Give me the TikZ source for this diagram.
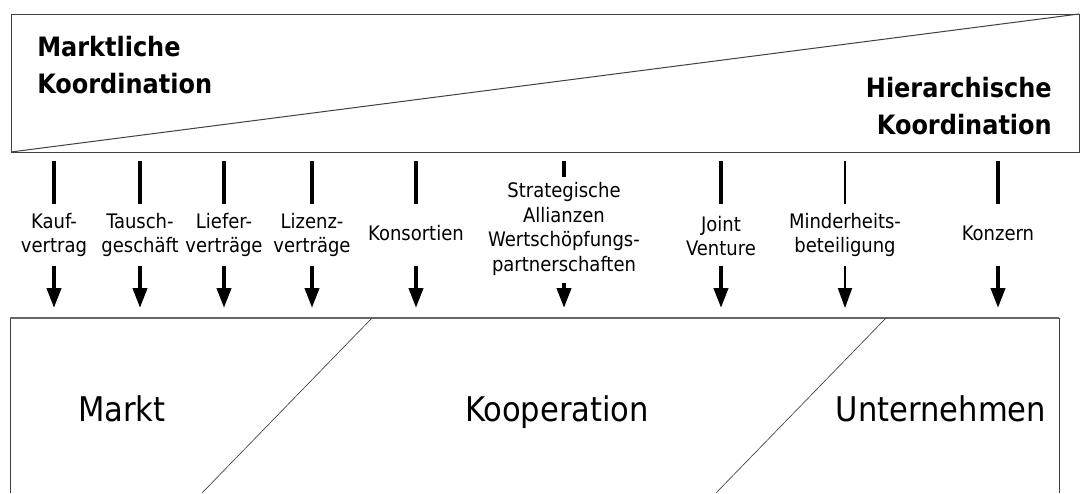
\documentclass[tikz,border=0pt]{standalone}
\usepackage{fontspec}
\setmainfont{DejaVu Sans Condensed}
\usetikzlibrary{arrows.meta}
\tikzset{
  bar/.style={line width=3pt},
  pfeil/.style={line width=3pt,-{Triangle[width=10.5pt,length=15pt]}},
  form/.style={align=center,font=\fontsize{15}{18.4}\selectfont,inner sep=0pt},
  feld/.style={font=\fontsize{25.5}{30}\selectfont,inner sep=0pt,anchor=base},
  titel/.style={font=\fontsize{20}{28}\selectfont\bfseries,inner sep=0pt},
  rand/.style={draw=black!75,line width=0.75pt}
}
\begin{document}
\begin{tikzpicture}[x=0.75pt,y=-0.75pt]
\useasboundingbox (0,0) rectangle (1081,493);
\draw[rand] (11,14) rectangle (1079,152);
\draw[rand] (11,152) -- (1079,14);
\node[titel,anchor=north west,align=left] (mk) at (37,36) {Marktliche\\Koordination};
\node[titel,anchor=north east,align=right] (hk) at (1052,77) {Hierarchische\\Koordination};
\foreach \x/\n/\t/\ly/\yb/\ya/\w in {
  54/kauf/{Kauf-\\vertrag}/235/204/266/3,
  140/tausch/{Tausch-\\geschäft}/235/204/266/3,
  224/liefer/{Liefer-\\verträge}/235/204/266/3,
  312/lizenz/{Lizenz-\\verträge}/235/204/266/3,
  416/kons/{Konsortien}/233/204/266/3,
  564/alli/{Strategische\\Allianzen\\Wertschöpfungs-\\partnerschaften}/229/177/283/3,
  721/joint/{Joint\\Venture}/236/204/266/3,
  845/mind/{Minderheits-\\beteiligung}/235/204/266/1.5,
  998/konz/{Konzern}/233/204/266/3}{
  \node[form] (\n) at (\x,\ly) {\t};
  \coordinate (\n o) at (\x,161);
  \coordinate (\n m) at (\x,\yb);
  \coordinate (\n u) at (\x,\ya);
  \coordinate (\n z) at (\x,308);
  \draw[bar,line width=\w pt] (\n o) -- (\n m);
  \draw[pfeil,line width=\w pt] (\n u) -- (\n z);
}
\draw[rand] (10,493) -- (10,318) -- (1059,318) -- (1059,493);
\draw[draw=black!60,line width=1.5pt] (10,318) -- (1059,318);
\draw[rand,line width=0.5pt] (372,318) -- (202,493);
\draw[rand,line width=0.5pt] (886,318) -- (716,493);
\node[feld] (markt) at (122,421) {Markt};
\node[feld] (koop) at (557,421) {Kooperation};
\node[feld] (unt) at (941,421) {Unternehmen};
\end{tikzpicture}
\end{document}
